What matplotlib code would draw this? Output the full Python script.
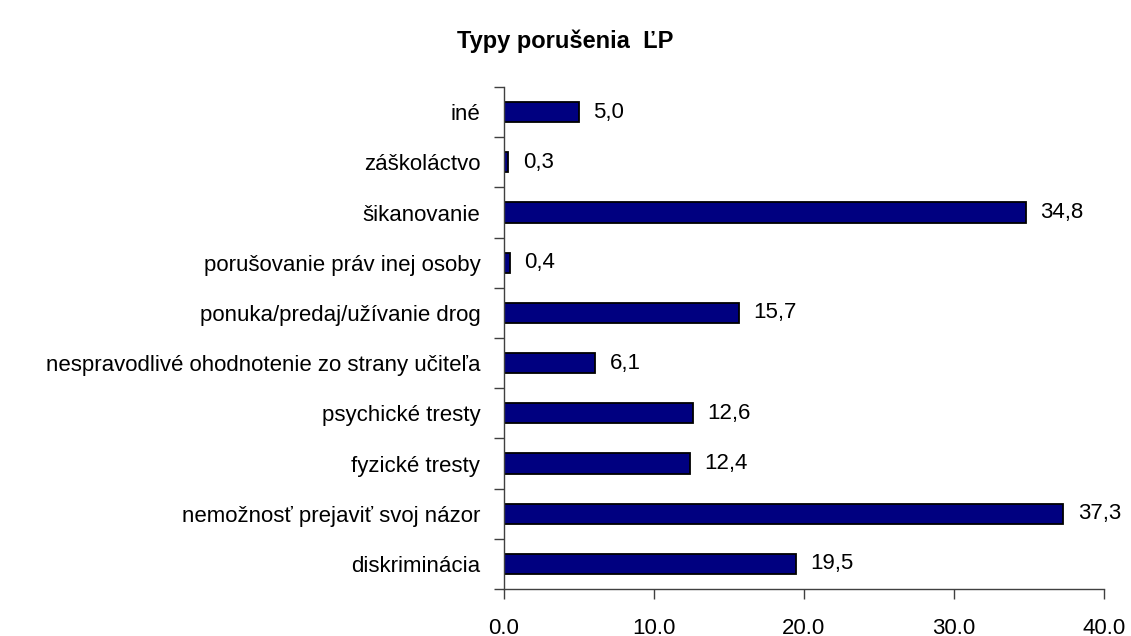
import matplotlib.pyplot as plt
from matplotlib.ticker import FixedLocator

categories = ['diskriminácia', 'nemožnosť prejaviť svoj názor', 'fyzické tresty',
              'psychické tresty', 'nespravodlivé ohodnotenie zo strany učiteľa',
              'ponuka/predaj/užívanie drog', 'porušovanie práv inej osoby',
              'šikanovanie', 'záškoláctvo', 'iné']
values = [19.5, 37.3, 12.4, 12.6, 6.1, 15.7, 0.4, 34.8, 0.3, 5.0]
xticks = [0, 10, 20, 30, 40]

plt.rcParams['font.family'] = ['Liberation Sans', 'DejaVu Sans']

fig = plt.figure(figsize=(11.31, 6.36), dpi=100)
ax = fig.add_axes([0.4456, 0.0739, 0.5304, 0.7893])

pos = list(range(len(categories)))
ax.barh(pos, values, height=0.4, color='#000080', edgecolor='black', linewidth=1.3)
for p, v in zip(pos, values):
    ax.text(v + 0.95, p, f'{v:.1f}'.replace('.', ','), va='center', ha='left', fontsize=16)

ax.set_xlim(0, 40)
ax.set_ylim(-0.5, len(categories) - 0.5)
ax.set_xticks(xticks)
ax.set_xticklabels([f'{t:.1f}' for t in xticks], fontsize=16)
ax.set_yticks(pos)
ax.set_yticklabels(categories, fontsize=16)
ax.yaxis.set_minor_locator(FixedLocator([p - 0.5 for p in pos] + [len(pos) - 0.5]))
ax.tick_params(axis='y', which='major', length=0, pad=17)
ax.tick_params(axis='y', which='minor', length=7, color='#404040', width=1)
ax.tick_params(axis='x', length=7, color='#404040', width=1, pad=14)

for s in ['top', 'right']:
    ax.spines[s].set_visible(False)
for s in ['left', 'bottom']:
    ax.spines[s].set_color('#404040')
    ax.spines[s].set_linewidth(1)

fig.text(0.5, 0.935, 'Typy porušenia  ĽP', ha='center', va='center',
         fontsize=17, fontweight='bold')

fig.savefig('out.png', dpi=100)
